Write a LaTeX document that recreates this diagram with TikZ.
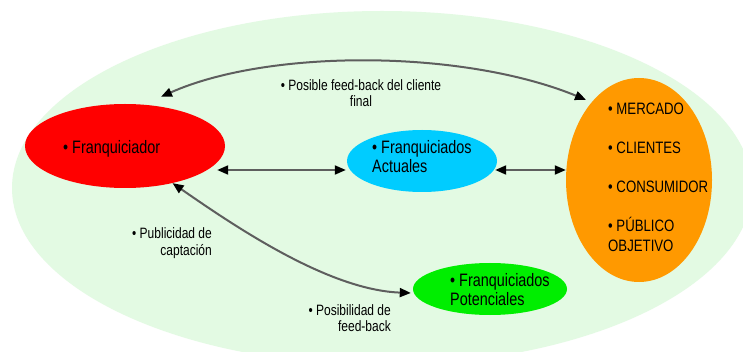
\documentclass[tikz,border=0pt]{standalone}
\usepackage{fontspec}
\setmainfont{Liberation Sans}[FakeStretch=0.8]
\usetikzlibrary{arrows.meta,shapes.geometric}
\definecolor{bgmint}{HTML}{E3FAE3}
\definecolor{fred}{HTML}{FF0000}
\definecolor{fcyan}{HTML}{00CCFF}
\definecolor{forange}{HTML}{FF9900}
\definecolor{fgreen}{HTML}{00EE00}
\definecolor{linegray}{HTML}{5E5E5E}
\begin{document}
\begin{tikzpicture}[x=1pt,y=-1pt,
  blob/.style={ellipse,draw=none,inner sep=0pt},
  bigtxt/.style={inner sep=0pt,font=\fontsize{18}{19}\selectfont,align=left},
  ortxt/.style={inner sep=0pt,font=\fontsize{16.5}{20}\selectfont,align=left},
  smalltxt/.style={inner sep=0pt,font=\fontsize{15}{16}\selectfont},
  link/.style={draw=linegray,line width=2pt,{Triangle[length=11pt,width=9pt,color=black]}-{Triangle[length=11pt,width=9pt,color=black]}}
]
\fill[white] (0,0) rectangle (743,352);
\useasboundingbox (0,0) rectangle (743,352);
\clip (0,0) rectangle (743,352);

% background field
\node[blob,fill=bgmint,minimum width=740pt,minimum height=354pt] (field) at (382,188) {};

% ellipses
\node[blob,fill=fred,minimum width=200pt,minimum height=84pt] (red) at (125,146) {};
\node[blob,fill=fcyan,minimum width=150pt,minimum height=62pt] (cyan) at (422,161) {};
\node[blob,fill=forange,minimum width=146pt,minimum height=204pt] (orange) at (639,180) {};
\node[blob,fill=fgreen,minimum width=154pt,minimum height=52pt] (green) at (490,289) {};

% texts inside
\node[bigtxt,anchor=base west] (tred) at (63,153.5) {• Franquiciador};
\node[bigtxt,anchor=north west] (tcyan) at (372,140.5) {• Franquiciados\\Actuales};
\node[bigtxt,anchor=north west] (tgreen) at (450,273.5) {• Franquiciados\\Potenciales};
\node[ortxt,anchor=north west] (torange) at (608,102.5)
  {• MERCADO\\[19pt]• CLIENTES\\[19pt]• CONSUMIDOR\\[19pt]• PÚBLICO\\OBJETIVO};

% labels
\node[smalltxt,align=center,anchor=north] (lfb) at (361,79.5)
  {• Posible feed-back del cliente\\final};
\node[smalltxt,font=\fontsize{15}{17}\selectfont,align=right,anchor=north east] (lpub) at (212,227.5)
  {• Publicidad de\\captación};
\node[smalltxt,align=right,anchor=north east] (lpos) at (391,304.5)
  {• Posibilidad de\\feed-back};

% connectors
\draw[link] ([xshift=-8pt,yshift=-24pt]red.east) -- ([xshift=-1pt,yshift=-9pt]cyan.west);
\draw[link] ([xshift=-2pt,yshift=-9pt]cyan.east) -- ([yshift=10pt]orange.west);
\draw[link] ([xshift=36pt,yshift=7pt]red.north) .. controls (268,49) and (462,49) .. ([shift={(-53pt,-22pt)}]orange.north);
\draw[link] (red.-38) .. controls (240,230) and (330,290) .. ([shift={(-2pt,-4pt)}]green.west);
\end{tikzpicture}
\end{document}
